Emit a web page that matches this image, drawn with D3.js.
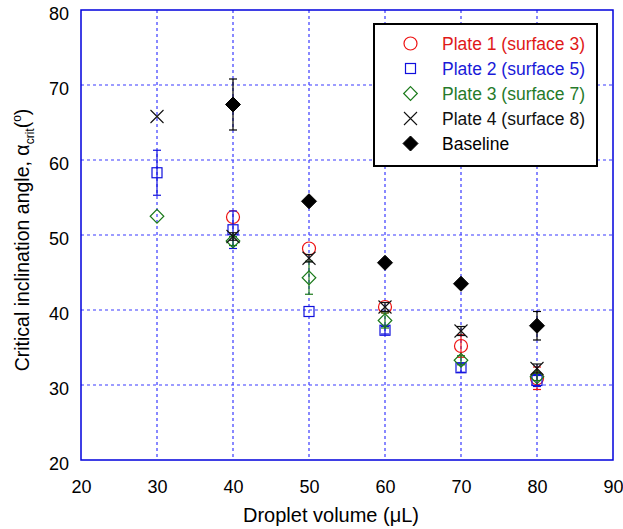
<!DOCTYPE html>
<html><head><meta charset="utf-8">
<script src="https://cdn.jsdelivr.net/npm/d3@7"></script>
<style>body{margin:0;background:#fff}svg{display:block}text{font-family:Arial,"Liberation Sans",sans-serif}</style>
</head><body>
<svg id="c" width="623" height="529"></svg>
<script>
const volumes = [30, 40, 50, 60, 70, 80];
const plate1 = [null, 52.4, 48.2, 40.4, 35.2, 30.9];
const plate1Err = [null, 0, 0, 0, 1.5, 1.5];
const plate2 = [58.3, 50.7, 39.8, 37.3, 32.3, 30.6];
const plate2Err = [3.0, 2.5, 0, 0.5, 0.6, 0.8];
const plate3 = [52.5, 49.2, 44.3, 38.6, 33.3, 31.1];
const plate3Err = [0, 0.6, 2.2, 1.0, 0.6, 0.5];
const plate4 = [65.8, 49.8, 46.9, 40.4, 37.2, 32.2];
const plate4Err = [0, 0.5, 0.5, 0.6, 0.6, 0.6];
const baseline = [null, 67.4, 54.5, 46.3, 43.5, 37.9];
const baselineErr = [null, 3.4, 0, 0, 0, 1.9];
const seriesNames = ["Plate 1 (surface 3)", "Plate 2 (surface 5)", "Plate 3 (surface 7)", "Plate 4 (surface 8)", "Baseline"];
const xTicks = [20, 30, 40, 50, 60, 70, 80, 90];
const yTicks = [20, 30, 40, 50, 60, 70, 80];

const series = [
  {name: seriesNames[0], vals: plate1, err: plate1Err, color: "#ee1111", text: "#e01818", shape: "circle"},
  {name: seriesNames[1], vals: plate2, err: plate2Err, color: "#1010dd", text: "#1a1ad8", shape: "square"},
  {name: seriesNames[2], vals: plate3, err: plate3Err, color: "#1a7a1a", text: "#267a2a", shape: "diamond"},
  {name: seriesNames[3], vals: plate4, err: plate4Err, color: "#111111", text: "#111111", shape: "cross"},
  {name: seriesNames[4], vals: baseline, err: baselineErr, color: "#000000", text: "#000000", shape: "fdiamond"}
];

const svg = d3.select("#c");
const L = 81, R = 613, T = 10, B = 460;
const x = d3.scaleLinear().domain([20, 90]).range([L, R]);
const y = d3.scaleLinear().domain([20, 80]).range([B, T]);
const gridCol = "#3a3aff";

const g = svg.append("g");
g.selectAll(".vg").data(xTicks.slice(1, -1)).join("line")
  .attr("x1", d => x(d)).attr("x2", d => x(d)).attr("y1", T).attr("y2", B)
  .attr("stroke", gridCol).attr("stroke-width", 1.2).attr("stroke-dasharray", "3,3");
g.selectAll(".hg").data(yTicks.slice(1, -1)).join("line")
  .attr("x1", L).attr("x2", R).attr("y1", d => y(d)).attr("y2", d => y(d))
  .attr("stroke", gridCol).attr("stroke-width", 1.2).attr("stroke-dasharray", "3,3");

const xAxis = svg.append("g").attr("transform", `translate(0,${B})`)
  .call(d3.axisBottom(x).tickValues(xTicks).tickSize(0).tickPadding(20));
const yAxis = svg.append("g").attr("transform", `translate(${L},0)`)
  .call(d3.axisLeft(y).tickValues(yTicks).tickSize(0).tickPadding(12));
[xAxis, yAxis].forEach(a => {
  a.select(".domain").remove();
  a.selectAll("text").attr("font-size", 18).attr("fill", "#000")
    .style("font-family", "Arial, 'Liberation Sans', sans-serif");
});
yAxis.selectAll("text").attr("dy", "0.55em");

svg.append("rect").attr("x", L).attr("y", T).attr("width", R - L).attr("height", B - T)
  .attr("fill", "none").attr("stroke", "#0000dd").attr("stroke-width", 1.5);

function drawMarker(sel, shape, color, cx, cy) {
  if (shape === "circle") {
    sel.append("circle").attr("cx", cx).attr("cy", cy).attr("r", 6.5)
      .attr("fill", "none").attr("stroke", color).attr("stroke-width", 1.2);
  } else if (shape === "square") {
    sel.append("rect").attr("x", cx - 5).attr("y", cy - 5).attr("width", 10).attr("height", 10)
      .attr("fill", "none").attr("stroke", color).attr("stroke-width", 1.2);
  } else if (shape === "diamond") {
    const s = 6.8;
    sel.append("path").attr("d", `M${cx},${cy - s}L${cx + s},${cy}L${cx},${cy + s}L${cx - s},${cy}Z`)
      .attr("fill", "none").attr("stroke", color).attr("stroke-width", 1.2);
  } else if (shape === "cross") {
    const s = 6.5;
    sel.append("path").attr("d", `M${cx - s},${cy - s}L${cx + s},${cy + s}M${cx - s},${cy + s}L${cx + s},${cy - s}`)
      .attr("fill", "none").attr("stroke", color).attr("stroke-width", 1.1);
  } else if (shape === "fdiamond") {
    const s = 7.5;
    sel.append("path").attr("d", `M${cx},${cy - s}L${cx + s},${cy}L${cx},${cy + s}L${cx - s},${cy}Z`)
      .attr("fill", color).attr("stroke", color).attr("stroke-width", 1);
  }
}

const dg = svg.append("g");
series.forEach(s => {
  const sg = dg.append("g");
  volumes.forEach((v, i) => {
    const val = s.vals[i];
    if (val == null) return;
    const e = s.err[i];
    if (e) {
      const cx = x(v), y1 = y(val - e), y2 = y(val + e);
      sg.append("line").attr("x1", cx).attr("x2", cx).attr("y1", y1).attr("y2", y2)
        .attr("stroke", s.color).attr("stroke-width", 1.2);
      [y1, y2].forEach(yy => sg.append("line").attr("x1", cx - 4).attr("x2", cx + 4)
        .attr("y1", yy).attr("y2", yy).attr("stroke", s.color).attr("stroke-width", 1.2));
    }
    drawMarker(sg, s.shape, s.color, x(v), y(val));
  });
});

const lg = svg.append("g");
lg.append("rect").attr("x", 374).attr("y", 24).attr("width", 223).attr("height", 142)
  .attr("fill", "#fff").attr("stroke", "#000").attr("stroke-width", 2);
series.forEach((s, i) => {
  const cy = 43.5 + i * 25;
  drawMarker(lg, s.shape, s.color, 410.5, cy);
  lg.append("text").attr("x", 442).attr("y", cy).attr("dy", "0.36em")
    .attr("font-size", 17.5).attr("fill", s.text).text(s.name);
});

svg.append("text").attr("x", 331).attr("y", 522).attr("text-anchor", "middle")
  .attr("font-size", 20).attr("fill", "#000").text("Droplet volume (\u03bcL)");
const yt = svg.append("text").attr("transform", "translate(29,240) rotate(-90)")
  .attr("text-anchor", "middle").attr("font-size", 19.5).attr("fill", "#000");
yt.append("tspan").text("Critical inclination angle, \u03b1");
yt.append("tspan").attr("font-size", 12).attr("dy", 5).text("crit");
yt.append("tspan").attr("dy", -5).text("(");
yt.append("tspan").attr("font-size", 12).attr("dy", -8).text("o");
yt.append("tspan").attr("dy", 8).text(")");
</script>
</body></html>
